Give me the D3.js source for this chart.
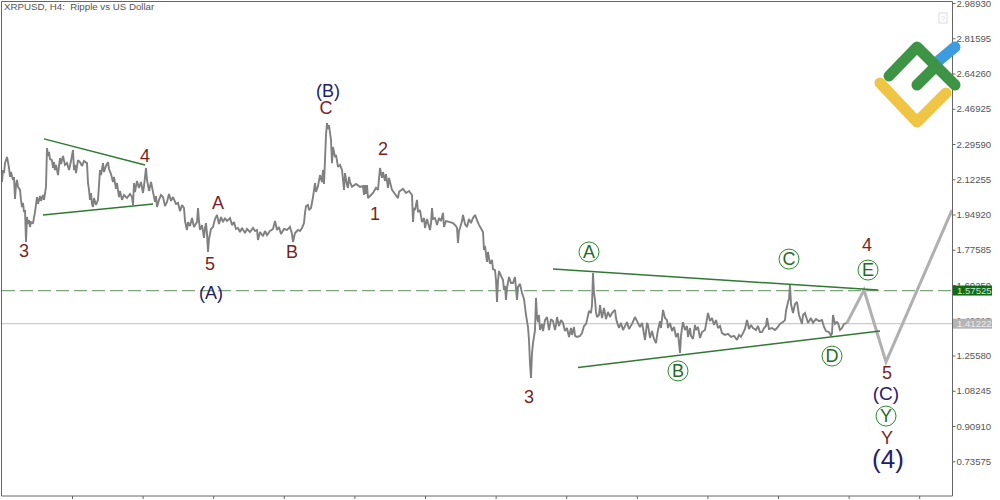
<!DOCTYPE html>
<html><head><meta charset="utf-8">
<script src="https://cdn.jsdelivr.net/npm/d3@7"></script>
<style>html,body{margin:0;padding:0;background:#fff}svg{display:block}text{font-family:"Liberation Sans",Arial,sans-serif}</style>
</head><body><svg id="c" width="1000" height="500"></svg>
<script>
const priceTicks=[2.98930,2.81595,2.64260,2.46925,2.29590,2.12255,1.94920,1.77585,1.60250,1.42915,1.25580,1.08245,0.90910,0.73575];
const timeTicks=[72,142.6,213.2,283.8,354.4,425,495.6,566.2,636.8,707.4,778,848.6,919.2];
const title="XRPUSD, H4:  Ripple vs US Dollar";
const priceSeries=[[2,2.109],[3,2.168],[4,2.153],[5,2.202],[7,2.232],[8,2.207],[9,2.178],[10,2.134],[11,2.158],[13,2.119],[14,2.134],[15,2.026],[16,2.094],[17,2.119],[18,2.085],[20,2.070],[21,2.021],[22,1.986],[23,2.006],[24,1.961],[25,1.971],[26,1.814],[27,1.937],[28,1.902],[29,1.922],[30,1.888],[31,1.912],[33,1.907],[35,1.961],[37,2.035],[38,2.001],[40,2.040],[41,2.016],[43,2.045],[44,2.021],[46,2.085],[47,2.276],[48,2.237],[49,2.257],[50,2.222],[52,2.217],[53,2.178],[54,2.207],[55,2.168],[56,2.193],[58,2.143],[59,2.188],[60,2.227],[61,2.198],[63,2.237],[65,2.193],[67,2.202],[69,2.168],[71,2.212],[73,2.266],[74,2.168],[75,2.193],[76,2.153],[78,2.217],[80,2.207],[82,2.188],[84,2.212],[87,2.202],[88,2.104],[89,2.070],[90,2.021],[91,2.055],[92,2.001],[93,1.986],[94,2.030],[96,1.996],[98,2.021],[99,2.094],[100,2.168],[101,2.143],[103,2.202],[104,2.158],[106,2.188],[108,2.207],[109,2.173],[111,2.148],[113,2.109],[114,2.134],[116,2.075],[117,2.104],[119,2.035],[120,2.065],[122,2.021],[124,2.045],[127,2.030],[130,2.050],[132,2.035],[133,1.996],[134,2.104],[135,2.060],[137,2.114],[139,2.080],[141,2.109],[143,2.055],[144,2.089],[146,2.178],[147,2.119],[148,2.094],[149,2.065],[151,2.109],[153,2.060],[155,2.011],[156,2.040],[157,1.986],[159,2.021],[161,2.045],[163,2.035],[165,1.991],[167,2.011],[169,2.050],[171,2.016],[173,2.035],[176,2.001],[178,2.006],[180,1.966],[182,1.996],[184,1.981],[185,1.917],[187,1.873],[188,1.912],[190,1.892],[192,1.932],[194,1.888],[197,1.912],[198,1.981],[199,1.917],[200,1.873],[202,1.897],[204,1.834],[205,1.883],[206,1.907],[207,1.853],[208,1.765],[209,1.829],[211,1.878],[213,1.888],[215,1.927],[217,1.947],[219,1.902],[221,1.937],[223,1.912],[225,1.932],[227,1.917],[230,1.932],[232,1.897],[234,1.912],[236,1.878],[238,1.883],[240,1.863],[242,1.883],[245,1.858],[247,1.878],[250,1.863],[253,1.883],[255,1.868],[257,1.873],[258,1.824],[260,1.863],[263,1.843],[265,1.868],[267,1.848],[270,1.868],[273,1.878],[275,1.917],[277,1.873],[279,1.888],[281,1.853],[284,1.878],[287,1.873],[290,1.888],[292,1.853],[293,1.814],[295,1.858],[298,1.873],[300,1.868],[302,1.883],[304,1.907],[305,1.957],[306,1.991],[308,1.996],[309,1.971],[311,1.981],[313,2.035],[315,2.104],[316,2.060],[318,2.089],[320,2.143],[322,2.109],[323,2.168],[324,2.099],[325,2.217],[326,2.340],[327,2.399],[328,2.370],[329,2.389],[330,2.350],[331,2.316],[332,2.202],[333,2.281],[335,2.232],[336,2.242],[338,2.183],[340,2.193],[342,2.168],[344,2.070],[345,2.153],[347,2.094],[348,2.080],[349,2.134],[350,2.109],[352,2.085],[356,2.099],[360,2.085],[363,2.089],[364,2.045],[365,2.094],[366,2.050],[367,2.094],[368,2.030],[370,2.040],[373,2.055],[376,2.080],[378,2.070],[380,2.178],[382,2.129],[383,2.158],[385,2.114],[386,2.148],[388,2.080],[389,2.129],[390,2.109],[392,2.070],[395,2.050],[398,2.030],[399,2.060],[400,2.065],[403,2.075],[406,2.055],[409,2.065],[412,2.045],[413,1.912],[414,1.981],[415,1.971],[417,2.021],[418,1.961],[420,1.971],[422,1.912],[424,1.932],[425,1.883],[427,1.927],[430,1.873],[431,1.907],[432,1.981],[433,1.927],[435,1.932],[437,1.898],[439,1.932],[441,1.917],[443,1.957],[444,1.888],[446,1.917],[450,1.912],[453,1.907],[456,1.892],[457,1.883],[458,1.809],[459,1.868],[460,1.883],[462,1.917],[463,1.947],[465,1.902],[467,1.888],[469,1.927],[471,1.907],[473,1.932],[475,1.947],[477,1.922],[479,1.898],[483,1.863],[484,1.775],[485,1.795],[487,1.716],[488,1.765],[490,1.706],[492,1.726],[493,1.681],[495,1.676],[496,1.627],[497,1.519],[498,1.622],[499,1.671],[501,1.647],[503,1.627],[504,1.578],[505,1.598],[506,1.529],[507,1.588],[509,1.642],[511,1.612],[513,1.612],[515,1.642],[517,1.529],[518,1.593],[520,1.608],[522,1.563],[524,1.534],[525,1.495],[526,1.455],[528,1.396],[529,1.332],[530,1.214],[531,1.145],[532,1.268],[533,1.317],[535,1.381],[536,1.539],[537,1.445],[538,1.420],[539,1.455],[540,1.381],[542,1.411],[543,1.376],[545,1.430],[547,1.445],[549,1.381],[551,1.435],[553,1.425],[555,1.381],[556,1.406],[557,1.445],[559,1.401],[561,1.430],[563,1.416],[565,1.376],[567,1.391],[569,1.347],[571,1.391],[572,1.357],[574,1.396],[575,1.352],[577,1.347],[580,1.352],[582,1.366],[584,1.401],[586,1.411],[587,1.430],[589,1.475],[591,1.465],[592,1.504],[593,1.661],[594,1.563],[595,1.529],[596,1.470],[597,1.445],[599,1.455],[600,1.504],[602,1.440],[604,1.490],[606,1.435],[608,1.470],[610,1.445],[612,1.465],[615,1.480],[616,1.440],[617,1.420],[619,1.391],[621,1.416],[623,1.381],[625,1.401],[627,1.420],[629,1.386],[632,1.411],[635,1.445],[637,1.425],[640,1.396],[642,1.416],[643,1.391],[645,1.332],[646,1.371],[647,1.416],[648,1.406],[650,1.342],[652,1.376],[654,1.337],[656,1.317],[657,1.352],[658,1.381],[660,1.425],[661,1.391],[663,1.480],[665,1.440],[667,1.430],[668,1.391],[670,1.416],[672,1.376],[674,1.396],[676,1.347],[678,1.366],[679,1.317],[680,1.268],[681,1.352],[682,1.391],[683,1.420],[685,1.381],[687,1.401],[688,1.347],[690,1.391],[691,1.352],[693,1.337],[695,1.406],[696,1.381],[698,1.396],[700,1.342],[702,1.371],[705,1.381],[707,1.435],[708,1.465],[710,1.425],[712,1.440],[714,1.406],[716,1.430],[718,1.391],[720,1.401],[722,1.366],[725,1.357],[728,1.362],[731,1.347],[734,1.352],[737,1.332],[739,1.357],[741,1.347],[743,1.366],[745,1.386],[747,1.430],[749,1.386],[751,1.406],[753,1.391],[756,1.381],[758,1.401],[760,1.371],[762,1.371],[764,1.391],[766,1.401],[767,1.440],[769,1.386],[772,1.391],[775,1.381],[777,1.391],[780,1.411],[783,1.420],[785,1.430],[786,1.475],[788,1.519],[789,1.534],[790,1.603],[791,1.509],[793,1.465],[795,1.509],[797,1.519],[799,1.455],[800,1.440],[802,1.411],[803,1.455],[805,1.465],[808,1.416],[811,1.440],[813,1.416],[816,1.435],[819,1.425],[822,1.430],[824,1.396],[826,1.376],[829,1.371],[831,1.352],[832,1.366],[833,1.455],[835,1.411],[837,1.420],[838,1.416],[840,1.381],[842,1.391],[844,1.411],[847,1.416]];
const forecast=[[847,1.416],[864,1.578],[886,1.224],[952,1.971]];
const trendLines=[
 [[44,2.321],[145,2.193]],
 [[43,1.947],[153,2.001]],
 [[553,1.681],[878,1.578]],
 [[578,1.197],[880,1.376]]];
const levels=[{p:1.57525,kind:"bid"},{p:1.41222,kind:"ask"}];
const plainLabels=[
 ["3",24,1.770,"#7a1f1f",18],["4",145,2.237,"#7a1f1f",18],["A",218,2.006,"#7a1f1f",18],["5",210,1.706,"#7a1f1f",18],["B",292,1.765,"#7a1f1f",18],["C",326,2.473,"#7a1f1f",18],["(B)",328,2.557,"#1f2168",18],["(A)",211,1.563,"#1f2168",18],["2",383,2.271,"#7a1f1f",18],["1",375,1.952,"#7a1f1f",18],["3",529,1.052,"#7a1f1f",18],["4",867,1.799,"#7a1f1f",18],["5",887,1.170,"#7a1f1f",18],["(C)",886,1.067,"#1f2168",19],["Y",887,0.850,"#7a1f1f",18],["(4)",888,0.747,"#1f2168",26]];
const circledLabels=[["A",589,1.765],["B",678,1.180],["C",789,1.730],["D",832,1.253],["E",868,1.676],["Y",886,0.958]];

const svg=d3.select("#c");
const x=d3.scaleLinear().domain([0,952]).range([0,952]);
const y=d3.scaleLinear().domain([2.98930,0.73575]).range([3,461.25]);
const line=d3.line().x(d=>x(d[0])).y(d=>y(d[1]));

svg.selectAll(".lvl").data(levels).join("line").attr("x1",x(2)).attr("x2",x(952))
 .attr("y1",d=>y(d.p)).attr("y2",d=>y(d.p))
 .attr("stroke",d=>d.kind==="bid"?"#7fa57f":"#cccccc")
 .attr("stroke-width",1.2)
 .attr("stroke-dasharray",d=>d.kind==="bid"?"13 5":null);

svg.append("path").attr("d",line(priceSeries)).attr("fill","none").attr("stroke","#808080").attr("stroke-width",1.9).attr("stroke-linejoin","miter").attr("stroke-miterlimit",2);
svg.append("path").attr("d",line(forecast)).attr("fill","none").attr("stroke","#b0b0b0").attr("stroke-width",3);
svg.selectAll(".tl").data(trendLines).join("path").attr("d",line).attr("fill","none").attr("stroke","#2f7a33").attr("stroke-width",1.5);

svg.append("path").attr("d","M1.5,496V1.5H952.5V496H1.5").attr("fill","none").attr("stroke","#666");
const ay=svg.append("g").attr("transform","translate(952.5,0)").call(d3.axisRight(y).tickValues(priceTicks).tickFormat(d3.format(".5f")).tickSize(3).tickPadding(1));
ay.select(".domain").remove();
ay.selectAll("line").attr("stroke","#666");
ay.selectAll("text").attr("font-size",9.6).attr("font-family","Liberation Sans").attr("fill","#555");
const ax=svg.append("g").attr("transform","translate(0,496)").call(d3.axisBottom(x).tickValues(timeTicks).tickFormat("").tickSize(3));
ax.select(".domain").remove();
ax.selectAll("line").attr("stroke","#666");

const tags=svg.selectAll(".tag").data(levels).join("g").attr("transform",d=>`translate(953,${y(d.p)})`);
tags.append("rect").attr("x",0).attr("y",-5).attr("width",39).attr("height",10).attr("fill",d=>d.kind==="bid"?"#0f6a14":"#b4b4b4");
tags.append("text").attr("x",4).attr("y",3.5).attr("font-size",9.6).attr("fill",d=>d.kind==="bid"?"#cfe6cf":"#ececec").text(d=>d.p.toFixed(5));

svg.append("text").attr("x",4).attr("y",10).attr("font-size",9.7).attr("fill","#555").attr("xml:space","preserve").text(title);

svg.selectAll(".pl").data(plainLabels).join("text").attr("x",d=>d[1]).attr("y",d=>y(d[2])).attr("text-anchor","middle").attr("dominant-baseline","central").attr("font-size",d=>d[4]).attr("fill",d=>d[3]).text(d=>d[0]);
const cg=svg.selectAll(".cl").data(circledLabels).join("g").attr("transform",d=>`translate(${d[1]},${y(d[2])})`);
cg.append("circle").attr("r",10).attr("fill","none").attr("stroke","#2e8b2e").attr("stroke-width",1);
cg.append("text").attr("text-anchor","middle").attr("dominant-baseline","central").attr("font-size",18).attr("fill","#236b26").text(d=>d[0]);

const logo=svg.append("g").attr("fill","none").attr("stroke-linecap","round").attr("stroke-linejoin","round").attr("stroke-width",11);
logo.append("path").attr("d","M937,62L955,47").attr("stroke","#3d9be0");
logo.append("path").attr("d","M880,83L917,122L946,93").attr("stroke","#f0c543");
logo.append("path").attr("d","M889,76L917,47L955,85").attr("stroke","#3d9444");
logo.append("path").attr("d","M917,85L932,70").attr("stroke","#3d9444");
svg.append("rect").attr("x",939).attr("y",13).attr("width",8).attr("height",10).attr("fill","none").attr("stroke","#dcdcdc");
svg.append("text").attr("x",943).attr("y",21).attr("text-anchor","middle").attr("font-size",8).attr("fill","#d8d8d8").text("?");
</script></body></html>
